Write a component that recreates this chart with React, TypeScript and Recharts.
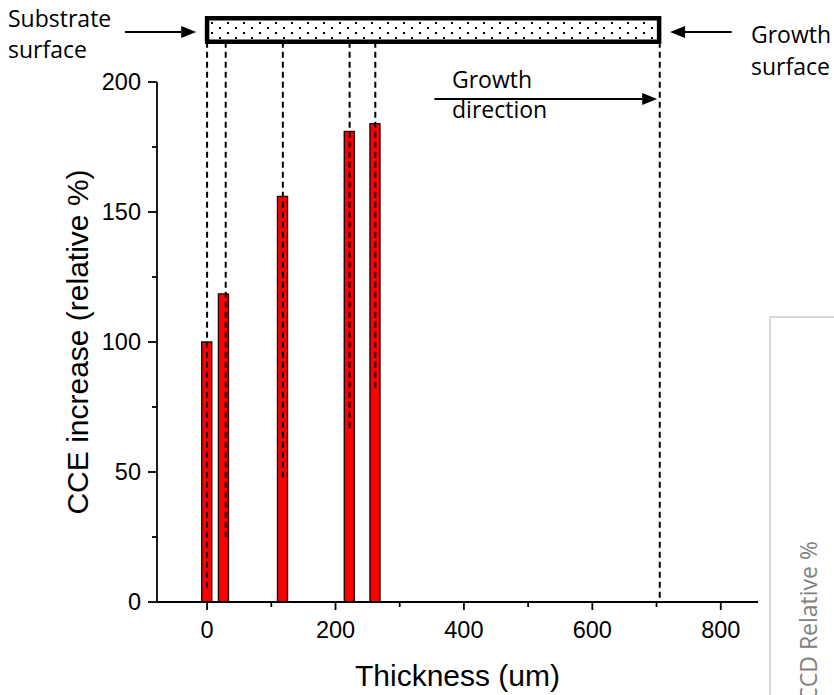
import React from 'react';
import { ComposedChart, Bar, XAxis, YAxis, ReferenceLine, ReferenceArea } from 'recharts';

// measured CCE increase per layer depth
const thickness = [0, 26, 118, 222, 262];
const cceIncrease = [100, 118.5, 156, 181, 184];

// dashed guides from the strip down to the bars (x, where they stop)
const guideX = [0, 29, 118, 222, 262, 705];
const guideBottom = [5, 25, 48, 67, 82, 0];

const xTicks = [0, 100, 200, 300, 400, 500, 600, 700, 800];
const yTicks = [0, 25, 50, 75, 100, 125, 150, 175, 200];

// the sample strip drawn above the plot, in data units
const strip = { x1: 0, x2: 704, y1: 215.5, y2: 224.5 };

const arrows = [
  { from: [-128, 219.2], to: [-17, 219.2] },
  { from: [817, 219.2], to: [721, 219.2] },
  { from: [354, 193.5], to: [701, 193.5] },
];

const data = thickness.map((x, i) => ({ x, cce: cceIncrease[i] }));

const FONT = 'Arial, "Liberation Sans", sans-serif';
const NOTE_FONT = '"Open Sans", "Noto Sans", sans-serif';

const X_TICK_SIZE = 8;
const X_TICK_MARGIN = 11;
const Y_TICK_SIZE = 9;
const Y_TICK_MARGIN = 7;

const XTick = (props: any) => {
  const { x, y, payload } = props;
  const axisY = y - X_TICK_SIZE - X_TICK_MARGIN;
  const major = payload.value % 200 === 0;
  return (
    <g>
      <line x1={x} x2={x} y1={axisY} y2={axisY + (major ? X_TICK_SIZE : 5)} stroke="#000" strokeWidth={1.8} />
      {major && (
        <text x={x} y={y} dy="0.71em" textAnchor="middle" fontSize={23.5} fontFamily={FONT} fill="#000">
          {payload.value}
        </text>
      )}
    </g>
  );
};

const YTick = (props: any) => {
  const { x, y, payload } = props;
  const axisX = x + Y_TICK_SIZE + Y_TICK_MARGIN;
  const major = payload.value % 50 === 0;
  return (
    <g>
      <line x1={axisX - (major ? Y_TICK_SIZE : 5)} x2={axisX} y1={y} y2={y} stroke="#000" strokeWidth={1.8} />
      {major && (
        <text x={x} y={y} dy="0.355em" textAnchor="end" fontSize={23.5} fontFamily={FONT} fill="#000">
          {payload.value}
        </text>
      )}
    </g>
  );
};

const Arrow = (props: any) => {
  const { x1, y1, x2, y2 } = props;
  const a = Math.atan2(y2 - y1, x2 - x1);
  const len = 15;
  const half = 6;
  const bx = x2 - len * Math.cos(a);
  const by = y2 - len * Math.sin(a);
  const px = -Math.sin(a) * half;
  const py = Math.cos(a) * half;
  return (
    <g>
      <line x1={x1} y1={y1} x2={bx} y2={by} stroke="#000" strokeWidth={2} />
      <polygon points={`${x2},${y2} ${bx + px},${by + py} ${bx - px},${by - py}`} fill="#000" />
    </g>
  );
};

export default function App() {
  return (
    <div style={{ position: 'absolute', left: 0, top: 0, width: 834, height: 695, background: '#fff', overflow: 'hidden' }}>
      <svg width={834} height={695} style={{ position: 'absolute', left: 0, top: 0 }}>
        <defs>
          <pattern id="dots" width={16} height={10} patternUnits="userSpaceOnUse">
            <rect width={16} height={10} fill="#fff" />
            <rect x={3} y={2} width={2} height={2} fill="#000" />
            <rect x={11} y={7} width={2} height={2} fill="#000" />
          </pattern>
        </defs>
        <rect x={770} y={317} width={100} height={400} fill="none" stroke="#d9d9d9" strokeWidth={2} />
        <text
          x={809}
          y={541}
          transform="rotate(-90 809 541)"
          textAnchor="end"
          dy="0.35em"
          fontSize={23}
          fontFamily={NOTE_FONT}
          fill="#808080"
        >
          CCD Relative %
        </text>
      </svg>
      <div style={{ position: 'absolute', left: 0, top: 0 }}>
        <ComposedChart width={834} height={695} data={data} margin={{ top: 82, right: 76, bottom: 3, left: 97 }}>
          <XAxis
            dataKey="x"
            type="number"
            domain={[-78, 858]}
            ticks={xTicks}
            interval={0}
            allowDataOverflow
            height={90}
            tickSize={X_TICK_SIZE}
            tickMargin={X_TICK_MARGIN}
            tickLine={false}
            tick={<XTick />}
            axisLine={{ stroke: '#000', strokeWidth: 1.8 }}
            label={{ value: 'Thickness (um)', position: 'insideBottom', offset: 6, fontSize: 30, fontFamily: FONT, fill: '#000' }}
          />
          <YAxis
            type="number"
            domain={[0, 200]}
            ticks={yTicks}
            interval={0}
            allowDataOverflow
            width={60}
            tickSize={Y_TICK_SIZE}
            tickMargin={Y_TICK_MARGIN}
            tickLine={false}
            tick={<YTick />}
            axisLine={{ stroke: '#000', strokeWidth: 1.8 }}
            label={{
              value: 'CCE increase (relative %)',
              angle: -90,
              position: 'insideLeft',
              offset: -20,
              fontSize: 30,
              fontFamily: FONT,
              fill: '#000',
              style: { textAnchor: 'middle' },
            }}
          />
          <Bar dataKey="cce" barSize={10} fill="#ff0000" stroke="#2a0000" strokeWidth={1.4} isAnimationActive={false} />
          <ReferenceArea
            x1={strip.x1}
            x2={strip.x2}
            y1={strip.y1}
            y2={strip.y2}
            ifOverflow="visible"
            fill="url(#dots)"
            fillOpacity={1}
            stroke="#000"
            strokeWidth={4.5}
          />
          {guideX.map((gx, i) => (
            <ReferenceLine
              key={`g${i}`}
              segment={[{ x: gx, y: strip.y1 }, { x: gx, y: guideBottom[i] }]}
              ifOverflow="visible"
              stroke="#000"
              strokeWidth={2}
              strokeDasharray="6 4"
            />
          ))}
          {arrows.map((a, i) => (
            <ReferenceLine
              key={`a${i}`}
              segment={[{ x: a.from[0], y: a.from[1] }, { x: a.to[0], y: a.to[1] }]}
              ifOverflow="visible"
              shape={<Arrow />}
            />
          ))}
        </ComposedChart>
      </div>
      <svg width={834} height={695} style={{ position: 'absolute', left: 0, top: 0, pointerEvents: 'none' }}>
        <g fontFamily={NOTE_FONT} fontSize={23} fill="#000">
          <text x={8} y={27}>Substrate</text>
          <text x={8} y={58}>surface</text>
          <text x={751} y={43}>Growth</text>
          <text x={751} y={75}>surface</text>
          <text x={452} y={88}>Growth</text>
          <text x={452} y={118}>direction</text>
        </g>
      </svg>
    </div>
  );
}
